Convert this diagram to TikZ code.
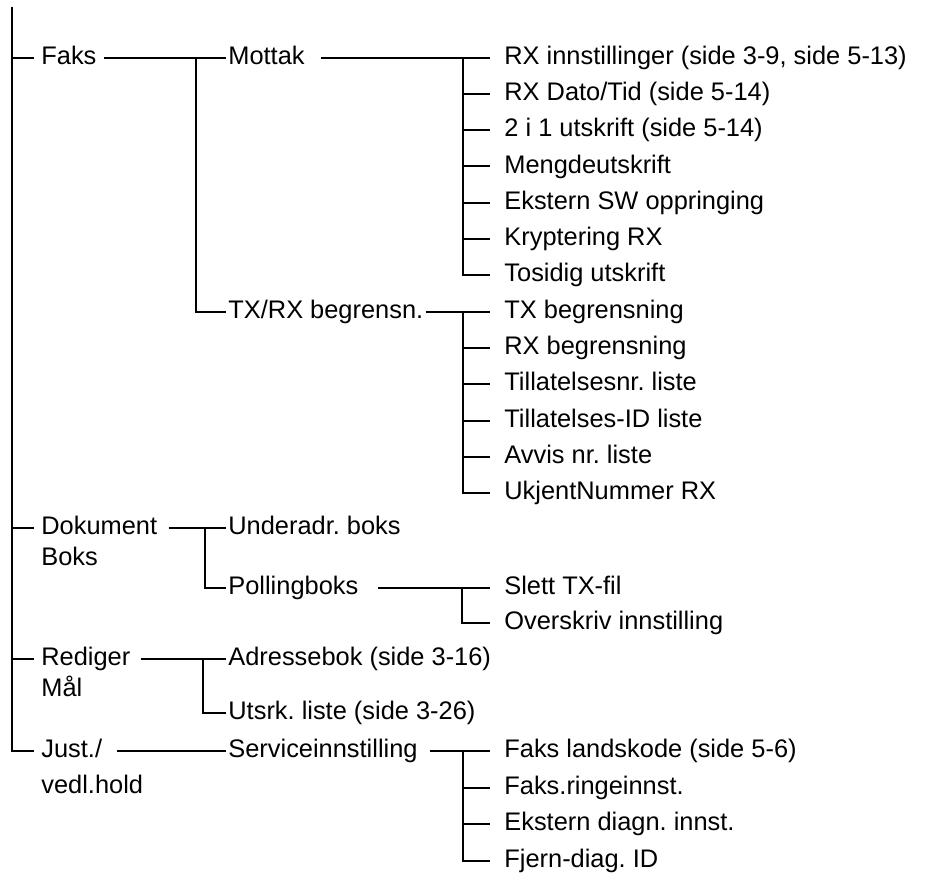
\documentclass[tikz,border=0pt]{standalone}
\usepackage{fontspec}
\setmainfont{Liberation Sans}
\usetikzlibrary{positioning,calc}
\frenchspacing
\tikzset{
  tree/.style={draw=black, line width=1pt},
  lbl/.style={font=\fontsize{12.7}{15}\selectfont, text=black, anchor=west,
              inner ysep=0pt, text height=6.6pt, text depth=0pt},
  menu/.style={lbl, inner xsep=3.5pt},
  submenu/.style={lbl, inner xsep=1pt},
  leaf/.style={lbl, inner xsep=7pt},
}

\begin{document}
\begin{tikzpicture}[x=0.5pt,y=-0.5pt]
\useasboundingbox (0,0) rectangle (931,874);

% Root ------------------------------------------------------------------------
\coordinate (root) at (12,7);

% First level -----------------------------------------------------------------
\node[menu] (faks) at (34,57.5) {Faks};
\node[menu] (dokument) at (34,528) {Dokument};
\node[menu] (boks) at ($(dokument.west)+(0,31)$) {Boks};
\node[menu] (rediger) at (34,659) {Rediger};
\node[menu] (maal) at ($(rediger.west)+(0,31)$) {Mål};
\node[menu] (just) at (34,751) {Just./};
\node[menu] (vedl) at ($(just.west)+(0,36)$) {vedl.hold};

\draw[tree] (root) |- (just.west);
\draw[tree] (root |- faks.west) -- (faks.west);
\draw[tree] (root |- dokument.west) -- (dokument.west);
\draw[tree] (root |- rediger.west) -- (rediger.west);

% Faks ------------------------------------------------------------------------
\node[submenu] (mottak) at (226,57.5) {Mottak};
\node[submenu] (txrx) at (226,311.6) {TX/RX begrensn.};

\coordinate (faksbus) at (196,57.5);
\draw[tree] (faks.east) -- (mottak.west);
\draw[tree] (faksbus) |- (txrx.west);

% Mottak
\node[leaf] (rxset) at (490,57.5) {RX innstillinger (side 3-9, side 5-13)};
\node[leaf] (rxdate) at (490,93.8) {RX Dato/Tid (side 5-14)};
\node[leaf] (twoinone) at (490,130.1) {2 i 1 utskrift (side 5-14)};
\node[leaf] (bulk) at (490,166.4) {Mengdeutskrift};
\node[leaf] (extsw) at (490,202.7) {Ekstern SW oppringing};
\node[leaf] (cryptrx) at (490,239) {Kryptering RX};
\node[leaf] (duplex) at (490,275.3) {Tosidig utskrift};

\coordinate (mottakbus) at (463,57.5);
\draw[tree] ([xshift=7pt]mottak.east) -- (rxset.west);
\draw[tree] (mottakbus) |- (duplex.west);
\draw[tree] (mottakbus |- rxdate.west) -- (rxdate.west);
\draw[tree] (mottakbus |- twoinone.west) -- (twoinone.west);
\draw[tree] (mottakbus |- bulk.west) -- (bulk.west);
\draw[tree] (mottakbus |- extsw.west) -- (extsw.west);
\draw[tree] (mottakbus |- cryptrx.west) -- (cryptrx.west);

% TX/RX begrensn.
\node[leaf] (txlimit) at (490,311.6) {TX begrensning};
\node[leaf] (rxlimit) at (490,347.9) {RX begrensning};
\node[leaf] (permitno) at (490,384.2) {Tillatelsesnr. liste};
\node[leaf] (permitid) at (490,420.5) {Tillatelses-ID liste};
\node[leaf] (rejectno) at (490,456.8) {Avvis nr. liste};
\node[leaf] (unknownrx) at (490,493.1) {UkjentNummer RX};

\coordinate (txrxbus) at (463,311.6);
\draw[tree] (txrx.east) -- (txlimit.west);
\draw[tree] (txrxbus) |- (unknownrx.west);
\draw[tree] (txrxbus |- rxlimit.west) -- (rxlimit.west);
\draw[tree] (txrxbus |- permitno.west) -- (permitno.west);
\draw[tree] (txrxbus |- permitid.west) -- (permitid.west);
\draw[tree] (txrxbus |- rejectno.west) -- (rejectno.west);

% Dokument Boks ---------------------------------------------------------------
\node[submenu] (subaddr) at (226,528) {Underadr. boks};
\node[submenu] (polling) at (226,588) {Pollingboks};

\coordinate (dokbus) at (205,528);
\draw[tree] ([xshift=2pt]dokument.east) -- (subaddr.west);
\draw[tree] (dokbus) |- (polling.west);

\node[leaf] (delfile) at (490,588) {Slett TX-fil};
\node[leaf] (overwrite) at (490,623) {Overskriv innstilling};

\coordinate (pollbus) at (462,588);
\draw[tree] ([xshift=8.5pt]polling.east) -- (delfile.west);
\draw[tree] (pollbus) |- (overwrite.west);

% Rediger Mål -----------------------------------------------------------------
\node[submenu] (addrbook) at (226,659) {Adressebok (side 3-16)};
\node[submenu] (printlist) at (226,713) {Utsrk. liste (side 3-26)};

\coordinate (redbus) at (203,659);
\draw[tree] ([xshift=1.5pt]rediger.east) -- (addrbook.west);
\draw[tree] (redbus) |- (printlist.west);

% Just./vedl.hold -------------------------------------------------------------
\node[submenu] (service) at (226,751) {Serviceinnstilling};
\draw[tree] ([xshift=4pt]just.east) -- (service.west);

\node[leaf] (country) at (490,751) {Faks landskode (side 5-6)};
\node[leaf] (ringset) at (490,787.5) {Faks.ringeinnst.};
\node[leaf] (extdiag) at (490,824) {Ekstern diagn. innst.};
\node[leaf] (remoteid) at (490,860.5) {Fjern-diag. ID};

\coordinate (servbus) at (463,751);
\draw[tree] ([xshift=5pt]service.east) -- (country.west);
\draw[tree] (servbus) |- (remoteid.west);
\draw[tree] (servbus |- ringset.west) -- (ringset.west);
\draw[tree] (servbus |- extdiag.west) -- (extdiag.west);

\end{tikzpicture}
\end{document}
